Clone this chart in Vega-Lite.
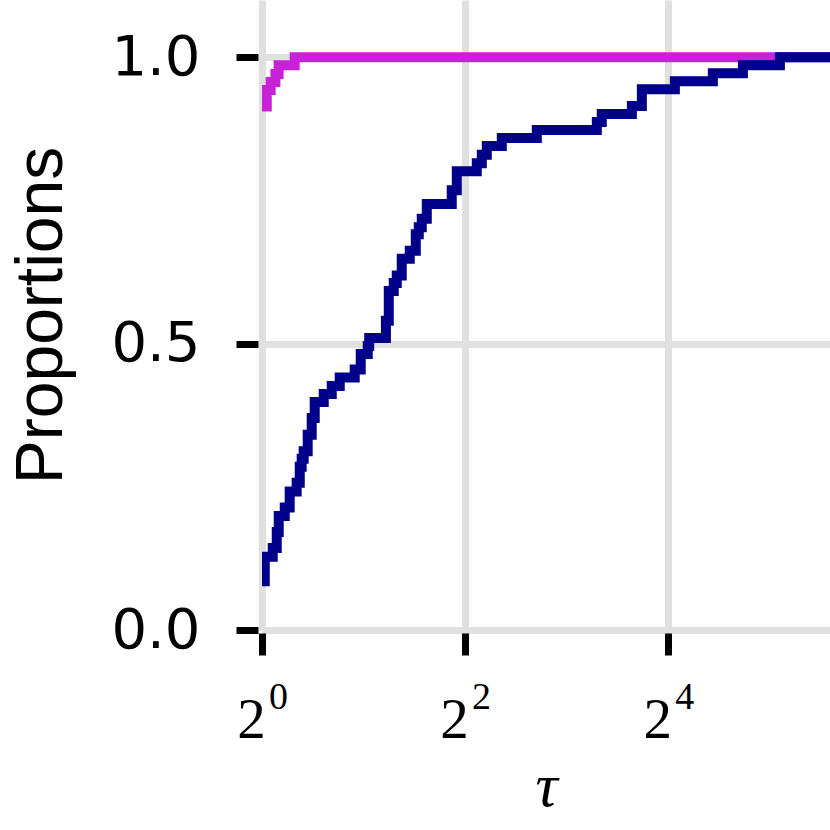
{
  "$schema": "https://vega.github.io/schema/vega-lite/v6.json",
  "width": 568,
  "height": 630,
  "autosize": "none",
  "padding": {"left": 262, "top": 0, "right": 0, "bottom": 200},
  "background": "white",
  "config": {"view": {"stroke": null}},
  "datasets": {
    "solverA": [
      {"tau": 1.0, "p": 0.914},
      {"tau": 1.033, "p": 0.943},
      {"tau": 1.061, "p": 0.957},
      {"tau": 1.096, "p": 0.971},
      {"tau": 1.12, "p": 0.986},
      {"tau": 1.25, "p": 1.0},
      {"tau": 48.3, "p": 1.0}
    ],
    "solverB": [
      {"tau": 1.0, "p": 0.085},
      {"tau": 1.019, "p": 0.128},
      {"tau": 1.076, "p": 0.143},
      {"tau": 1.106, "p": 0.171},
      {"tau": 1.121, "p": 0.199},
      {"tau": 1.168, "p": 0.214},
      {"tau": 1.208, "p": 0.242},
      {"tau": 1.267, "p": 0.257},
      {"tau": 1.294, "p": 0.285},
      {"tau": 1.311, "p": 0.299},
      {"tau": 1.329, "p": 0.312},
      {"tau": 1.366, "p": 0.341},
      {"tau": 1.404, "p": 0.37},
      {"tau": 1.433, "p": 0.398},
      {"tau": 1.524, "p": 0.412},
      {"tau": 1.61, "p": 0.426},
      {"tau": 1.7, "p": 0.441},
      {"tau": 1.883, "p": 0.455},
      {"tau": 1.962, "p": 0.482},
      {"tau": 2.058, "p": 0.496},
      {"tau": 2.079, "p": 0.51},
      {"tau": 2.33, "p": 0.54},
      {"tau": 2.376, "p": 0.592},
      {"tau": 2.458, "p": 0.606},
      {"tau": 2.509, "p": 0.619},
      {"tau": 2.596, "p": 0.648},
      {"tau": 2.742, "p": 0.662},
      {"tau": 2.857, "p": 0.691},
      {"tau": 2.916, "p": 0.703},
      {"tau": 2.976, "p": 0.718},
      {"tau": 3.08, "p": 0.744},
      {"tau": 3.652, "p": 0.768},
      {"tau": 3.78, "p": 0.801},
      {"tau": 4.333, "p": 0.815},
      {"tau": 4.484, "p": 0.83},
      {"tau": 4.639, "p": 0.845},
      {"tau": 5.14, "p": 0.859},
      {"tau": 6.527, "p": 0.873},
      {"tau": 9.832, "p": 0.887},
      {"tau": 10.17, "p": 0.901},
      {"tau": 12.49, "p": 0.915},
      {"tau": 13.37, "p": 0.944},
      {"tau": 16.75, "p": 0.958},
      {"tau": 21.71, "p": 0.972},
      {"tau": 26.65, "p": 0.986},
      {"tau": 34.31, "p": 1.0},
      {"tau": 48.3, "p": 1.0}
    ]
  },
  "encoding": {
    "y": {
      "field": "p",
      "type": "quantitative",
      "scale": {"domain": [0, 1.1], "nice": false, "zero": false},
      "axis": {
        "values": [0, 0.5, 1],
        "format": ".1f",
        "title": "Proportions",
        "domain": false,
        "offset": 4,
        "tickSize": 22,
        "tickWidth": 7,
        "tickColor": "black",
        "grid": true,
        "gridColor": "#e0e0e0",
        "gridWidth": 7,
        "labelFont": "DejaVu Sans",
        "labelFontSize": 56,
        "labelColor": "black",
        "labelPadding": 36,
        "labelOverlap": false,
        "labelBound": false,
        "titleFont": "Liberation Sans",
        "titleFontWeight": "normal",
        "titleFontSize": 66,
        "titleColor": "black",
        "titlePadding": 35
      }
    }
  },
  "resolve": {"axis": {"x": "independent"}},
  "layer": [
    {
      "data": {"name": "solverA"},
      "mark": {"type": "line", "interpolate": "step-after", "strokeWidth": 10, "strokeCap": "butt", "color": "#c722d8", "clip": true},
      "encoding": {
        "x": {
          "field": "tau",
          "type": "quantitative",
          "scale": {"type": "log", "base": 2, "domain": [1, 48.3], "nice": false},
          "axis": {
            "orient": "bottom",
            "values": [1, 4, 16],
            "labelExpr": "'2'",
            "title": "τ",
            "domain": false,
            "offset": 3,
            "tickSize": 22,
            "tickWidth": 7,
            "tickColor": "black",
            "grid": true,
            "gridColor": "#e0e0e0",
            "gridWidth": 7,
            "labelFont": "Liberation Serif",
            "labelFontSize": 57,
            "labelColor": "black",
            "labelBaseline": "alphabetic",
            "labelPadding": 82,
            "labelOffset": -11,
            "labelFlush": false,
            "labelOverlap": false,
            "labelBound": false,
            "titleFont": "Liberation Serif",
            "titleFontStyle": "italic",
            "titleFontWeight": "normal",
            "titleFontSize": 62,
            "titleColor": "black",
            "titlePadding": 8
          }
        }
      }
    },
    {
      "data": {"name": "solverB"},
      "mark": {"type": "line", "interpolate": "step-after", "strokeWidth": 10, "strokeCap": "butt", "color": "#00008b", "clip": true},
      "encoding": {
        "x": {
          "field": "tau",
          "type": "quantitative",
          "scale": {"type": "log", "base": 2, "domain": [1, 48.3], "nice": false},
          "axis": {
            "orient": "bottom",
            "values": [1, 4, 16],
            "labelExpr": "format(log(datum.value) / log(2), 'd')",
            "title": null,
            "domain": false,
            "offset": 3,
            "ticks": true,
            "tickSize": 22,
            "tickOpacity": 0,
            "grid": false,
            "labelFont": "Liberation Serif",
            "labelFontSize": 38,
            "labelColor": "black",
            "labelBaseline": "alphabetic",
            "labelPadding": 53,
            "labelOffset": 16,
            "labelFlush": false,
            "labelOverlap": false,
            "labelBound": false
          }
        }
      }
    }
  ]
}
